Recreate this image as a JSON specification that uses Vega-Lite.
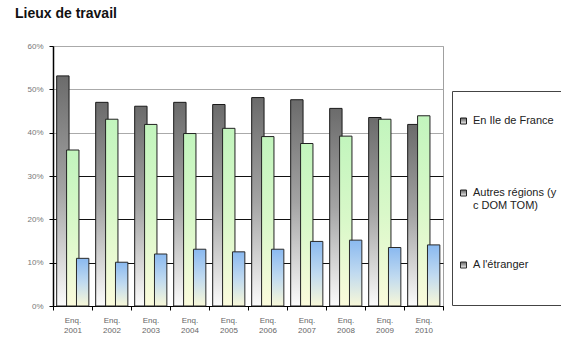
{
  "$schema": "https://vega.github.io/schema/vega-lite/v6.json",
  "width": 390,
  "height": 260,
  "autosize": {"type": "none"},
  "padding": {"left": 53, "top": 46, "right": 118, "bottom": 51},
  "background": "white",
  "title": {"text": "Lieux de travail", "anchor": "start", "frame": "group", "dx": -38, "offset": 21, "font": "Liberation Sans", "fontSize": 14, "fontWeight": "bold", "color": "#111111"},
  "data": {"values": [
    {"enq": "Enq. 2001", "serie": "En Ile de France", "v": 0.531},
    {"enq": "Enq. 2001", "serie": "Autres régions (y c DOM TOM)", "v": 0.36},
    {"enq": "Enq. 2001", "serie": "A l'étranger", "v": 0.11},
    {"enq": "Enq. 2002", "serie": "En Ile de France", "v": 0.47},
    {"enq": "Enq. 2002", "serie": "Autres régions (y c DOM TOM)", "v": 0.431},
    {"enq": "Enq. 2002", "serie": "A l'étranger", "v": 0.101},
    {"enq": "Enq. 2003", "serie": "En Ile de France", "v": 0.461},
    {"enq": "Enq. 2003", "serie": "Autres régions (y c DOM TOM)", "v": 0.419},
    {"enq": "Enq. 2003", "serie": "A l'étranger", "v": 0.12},
    {"enq": "Enq. 2004", "serie": "En Ile de France", "v": 0.47},
    {"enq": "Enq. 2004", "serie": "Autres régions (y c DOM TOM)", "v": 0.398},
    {"enq": "Enq. 2004", "serie": "A l'étranger", "v": 0.131},
    {"enq": "Enq. 2005", "serie": "En Ile de France", "v": 0.465},
    {"enq": "Enq. 2005", "serie": "Autres régions (y c DOM TOM)", "v": 0.41},
    {"enq": "Enq. 2005", "serie": "A l'étranger", "v": 0.125},
    {"enq": "Enq. 2006", "serie": "En Ile de France", "v": 0.481},
    {"enq": "Enq. 2006", "serie": "Autres régions (y c DOM TOM)", "v": 0.391},
    {"enq": "Enq. 2006", "serie": "A l'étranger", "v": 0.131},
    {"enq": "Enq. 2007", "serie": "En Ile de France", "v": 0.476},
    {"enq": "Enq. 2007", "serie": "Autres régions (y c DOM TOM)", "v": 0.375},
    {"enq": "Enq. 2007", "serie": "A l'étranger", "v": 0.149},
    {"enq": "Enq. 2008", "serie": "En Ile de France", "v": 0.456},
    {"enq": "Enq. 2008", "serie": "Autres régions (y c DOM TOM)", "v": 0.392},
    {"enq": "Enq. 2008", "serie": "A l'étranger", "v": 0.152},
    {"enq": "Enq. 2009", "serie": "En Ile de France", "v": 0.435},
    {"enq": "Enq. 2009", "serie": "Autres régions (y c DOM TOM)", "v": 0.431},
    {"enq": "Enq. 2009", "serie": "A l'étranger", "v": 0.135},
    {"enq": "Enq. 2010", "serie": "En Ile de France", "v": 0.419},
    {"enq": "Enq. 2010", "serie": "Autres régions (y c DOM TOM)", "v": 0.439},
    {"enq": "Enq. 2010", "serie": "A l'étranger", "v": 0.141}
  ]},
  "encoding": {
    "x": {
      "field": "enq", "type": "nominal", "sort": null,
      "scale": {"paddingInner": 0, "paddingOuter": 0},
      "axis": {
        "title": null, "labelAngle": 0, "labelExpr": "split(datum.label, ' ')",
        "labelFont": "Liberation Sans", "labelFontSize": 8, "labelColor": "#666666",
        "labelLineHeight": 10, "labelPadding": 6, "labelBaseline": "top",
        "domainColor": "#000000", "tickColor": "#000000", "tickSize": 4,
        "tickBand": "extent", "grid": false
      }
    },
    "xOffset": {
      "field": "serie", "type": "nominal",
      "scale": {"domain": ["En Ile de France", "Autres régions (y c DOM TOM)", "A l'étranger"], "paddingInner": 0, "paddingOuter": 0.47, "align": 0.92}
    },
    "y": {
      "field": "v", "type": "quantitative",
      "scale": {"domain": [0, 0.6]},
      "axis": {
        "title": null, "format": ".0%", "values": [0, 0.1, 0.2, 0.3, 0.4, 0.5, 0.6],
        "labelFont": "Liberation Sans", "labelFontSize": 8, "labelColor": "#777777",
        "labelPadding": 6, "domainColor": "#000000", "domainWidth": 1.5,
        "tickColor": "#000000", "tickSize": 4,
        "gridColor": {"condition": {"test": "datum.value <= 0.3", "value": "#111111"}, "value": "#aaaaaa"}
      }
    },
    "stroke": {
      "field": "serie", "type": "nominal",
      "scale": {
        "domain": ["En Ile de France", "Autres régions (y c DOM TOM)", "A l'étranger"],
        "range": ["#1a1a1a", "#222222", "#2a2a2a"]
      },
      "legend": {
        "title": " ", "titleFontSize": 1, "titlePadding": 9, "titleOrient": "bottom",
        "orient": "none", "legendX": 399, "legendY": 45,
        "strokeColor": "#444444", "padding": 6,
        "symbolType": "square", "symbolSize": 36, "symbolStrokeWidth": 1, "symbolFillColor": "#eeeeee",
        "labelFont": "Liberation Sans", "labelFontSize": 11, "labelColor": "#222222", "labelOffset": 4,
        "clipHeight": 48, "rowPadding": 24, "labelLimit": 200,
        "labelExpr": "datum.label == 'Autres régions (y c DOM TOM)' ? ['Autres régions (y', ' c  DOM TOM)'] : datum.label"
      }
    }
  },
  "layer": [
    {
      "transform": [{"filter": "datum.serie == 'En Ile de France'"}],
      "mark": {"type": "bar", "width": {"band": 1.25}, "strokeWidth": 1,
        "fill": {"gradient": "linear", "x1": 0, "y1": 0, "x2": 0, "y2": 1, "stops": [{"offset": 0, "color": "#6b6b6b"}, {"offset": 0.5, "color": "#a4a4a4"}, {"offset": 1, "color": "#fbfbfb"}]}}
    },
    {
      "transform": [{"filter": "datum.serie == 'Autres régions (y c DOM TOM)'"}],
      "mark": {"type": "bar", "width": {"band": 1.25}, "strokeWidth": 1,
        "fill": {"gradient": "linear", "x1": 0, "y1": 0, "x2": 0, "y2": 1, "stops": [{"offset": 0, "color": "#c2f5bd"}, {"offset": 0.5, "color": "#d9f8c9"}, {"offset": 1, "color": "#fbfbdc"}]}}
    },
    {
      "transform": [{"filter": "datum.serie == \"A l'étranger\""}],
      "mark": {"type": "bar", "width": {"band": 1.25}, "strokeWidth": 1,
        "fill": {"gradient": "linear", "x1": 0, "y1": 0, "x2": 0, "y2": 1, "stops": [{"offset": 0, "color": "#8ab9f0"}, {"offset": 0.5, "color": "#c0daf0"}, {"offset": 1, "color": "#f8f8d8"}]}}
    }
  ],
  "config": {"view": {"stroke": "#a0a0a0"}}
}
